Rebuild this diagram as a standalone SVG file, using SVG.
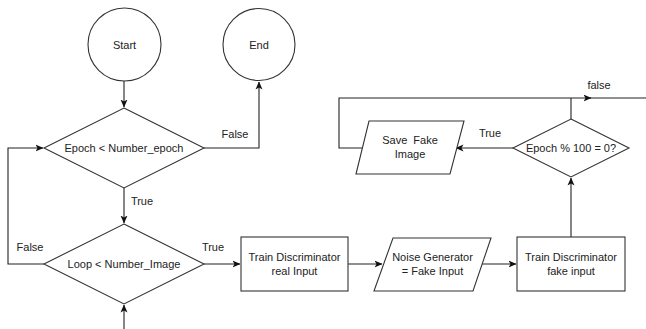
<svg xmlns="http://www.w3.org/2000/svg" width="646" height="329" viewBox="0 0 646 329">
<style>
.s{fill:#fff;stroke:#333;stroke-width:1.1}
.c{fill:none;stroke:#222;stroke-width:1.1}
text{font-family:"Liberation Sans",Arial,sans-serif;font-size:11px;fill:#222}
.m{text-anchor:middle}
</style>
<defs>
<marker id="a" viewBox="0 0 8 8" refX="7.5" refY="4" markerWidth="8" markerHeight="8" markerUnits="userSpaceOnUse" orient="auto">
<path d="M0,0.5 L8,4 L0,7.5 L2,4 Z" fill="#111"/>
</marker>
</defs>
<rect width="646" height="329" fill="#fff"/>
<g id="connectors">
<path class="c" d="M124,81 V107" marker-end="url(#a)"/>
<path class="c" d="M204,148 H259 V82" marker-end="url(#a)"/>
<path class="c" d="M124,188 V223" marker-end="url(#a)"/>
<path class="c" d="M44,264 H8 V148 H43" marker-end="url(#a)"/>
<path class="c" d="M204,264 H240" marker-end="url(#a)"/>
<path class="c" d="M348,264 H382" marker-end="url(#a)"/>
<path class="c" d="M482,264 H516" marker-end="url(#a)"/>
<path class="c" d="M571,237 V178" marker-end="url(#a)"/>
<path class="c" d="M513,148 H456" marker-end="url(#a)"/>
<path class="c" d="M362,148 H339 V98 H591" marker-end="url(#a)"/>
<path class="c" d="M590,98 H646"/>
<path class="c" d="M571,119 V98"/>
<path class="c" d="M124,329 V305" marker-end="url(#a)"/>
<text x="235" y="138" class="m">False</text>
<text x="142" y="205" class="m">True</text>
<text x="30" y="251" class="m">False</text>
<text x="213" y="251" class="m">True</text>
<text x="490" y="137" class="m">True</text>
<text x="599" y="89" class="m">false</text>
</g>
<g id="start"><circle class="s" cx="124.5" cy="44.5" r="36.5"/><text x="124.5" y="48.5" class="m">Start</text></g>
<g id="end"><circle class="s" cx="259" cy="44.5" r="36"/><text x="259" y="48.5" class="m">End</text></g>
<g id="epoch"><path class="s" d="M124,108 L204,148 L124,188 L44,148 Z"/><text x="124" y="152" class="m">Epoch &lt; Number_epoch</text></g>
<g id="loop"><path class="s" d="M124,224 L204,264 L124,304 L44,264 Z"/><text x="124" y="268" class="m">Loop &lt; Number_Image</text></g>
<g id="trainReal"><rect class="s" x="241" y="237" width="107" height="54"/><text x="294.5" y="261" class="m">Train Discriminator</text><text x="294.5" y="275" class="m">real Input</text></g>
<g id="noise"><path class="s" d="M393,238 H491 L473,291 H374 Z"/><text x="432.5" y="261" class="m">Noise Generator</text><text x="432.5" y="275" class="m">= Fake Input</text></g>
<g id="trainFake"><rect class="s" x="517" y="237" width="108" height="54"/><text x="571" y="261" class="m">Train Discriminator</text><text x="571" y="275" class="m">fake input</text></g>
<g id="epoch100"><path class="s" d="M571,119 L629,148 L571,177 L513,148 Z"/><text x="571" y="152" class="m">Epoch % 100 = 0?</text></g>
<g id="save"><path class="s" d="M369,121 H464 L450,174 H356 Z"/><text x="410" y="144" class="m">Save&#160; Fake</text><text x="410" y="158" class="m">Image</text></g>
</svg>
